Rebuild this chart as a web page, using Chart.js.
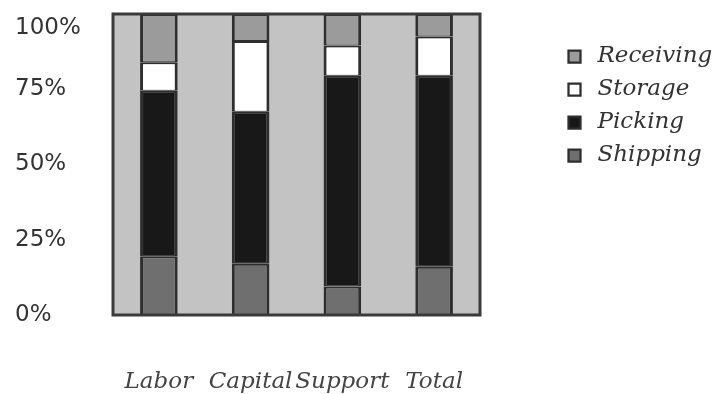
<!DOCTYPE html>
<html>
<head>
<meta charset="utf-8">
<title>Cost breakdown by activity</title>
<script src="https://cdn.jsdelivr.net/npm/chart.js@4.4.1/dist/chart.umd.min.js"></script>
<style>
  html, body { margin: 0; padding: 0; background: #ffffff; overflow: hidden; }
  #wrap { width: 715px; height: 394px; position: relative; }
</style>
</head>
<body>
<div id="wrap"><canvas id="chart"></canvas></div>
<script>
// Share of each warehouse activity (percent of the column total)
const categories = ['Labor', 'Capital', 'Support', 'Total'];
const shipping   = [19.5, 17, 9.5, 16];
const picking    = [55, 50.5, 70, 63.5];
const storage    = [9.5, 23.5, 10, 13];
const receiving  = [16, 9, 10.5, 7.5];
const yTicks     = [0, 25, 50, 75, 100];

const serifItalic = { family: "'DejaVu Serif', serif", style: 'italic', size: 23 };
const barBorder = { top: 2, bottom: 1, left: 3, right: 3 };

// Grey plot panel behind the bars, with a heavy frame drawn over it
const plotPanel = {
  id: 'plotPanel',
  beforeDatasetsDraw(chart) {
    const { ctx, chartArea: a } = chart;
    ctx.save();
    ctx.fillStyle = '#c3c3c3';
    ctx.fillRect(a.left, a.top, a.right - a.left, a.bottom - a.top);
    ctx.restore();
  },
  afterDatasetsDraw(chart) {
    const { ctx, chartArea: a } = chart;
    ctx.save();
    ctx.strokeStyle = '#3a3a3a';
    ctx.lineWidth = 3;
    ctx.strokeRect(a.left, a.top, a.right - a.left, a.bottom - a.top);
    ctx.restore();
  }
};

function series(label, data, color) {
  return {
    label, data,
    backgroundColor: color,
    borderColor: '#2e2e2e',
    borderWidth: barBorder,
    borderSkipped: false,
    categoryPercentage: 1,
    barPercentage: 0.41
  };
}

new Chart(document.getElementById('chart'), {
  type: 'bar',
  data: {
    labels: categories,
    datasets: [
      series('Shipping', shipping, '#6f6f6f'),
      series('Picking', picking, '#181818'),
      series('Storage', storage, '#ffffff'),
      series('Receiving', receiving, '#9b9b9b')
    ]
  },
  options: {
    responsive: true,
    maintainAspectRatio: false,
    animation: false,
    layout: { padding: { left: 15, top: 14, right: 0, bottom: 0 } },
    plugins: {
      tooltip: { enabled: false },
      legend: {
        position: 'right',
        align: 'start',
        reverse: true,
        maxWidth: 162,
        title: { display: true, text: '', font: { size: 10 }, padding: { top: 0, bottom: 9 } },
        labels: {
          usePointStyle: true,
          pointStyle: 'rect',
          boxWidth: 23,
          boxHeight: 12,
          padding: 10,
          color: '#333333',
          font: serifItalic
        }
      }
    },
    scales: {
      x: {
        stacked: true,
        grid: { display: false },
        border: { display: false },
        ticks: { color: '#444444', font: serifItalic, padding: 45, maxRotation: 0, autoSkip: false },
        afterFit(scale) { scale.height = 79; }
      },
      y: {
        stacked: true,
        min: 0,
        max: 100,
        grid: { display: false },
        border: { display: false },
        afterBuildTicks(scale) { scale.ticks = yTicks.map(v => ({ value: v })); },
        ticks: {
          color: '#333333',
          crossAlign: 'far',
          font: { family: "'DejaVu Sans', sans-serif", size: 23 },
          // the top label sits one line below its tick, inside the frame height
          callback: v => (v === 100 ? ['', v + '%'] : v + '%')
        },
        afterFit(scale) {
          scale.width = 98;
          scale.paddingTop = 0;
        }
      },
      // blank strip that keeps the legend clear of the plot
      gap: {
        position: 'right',
        display: true,
        grid: { display: false },
        border: { display: false },
        ticks: { display: false },
        afterFit(scale) { scale.width = 73; }
      }
    }
  },
  plugins: [plotPanel]
});
</script>
</body>
</html>
